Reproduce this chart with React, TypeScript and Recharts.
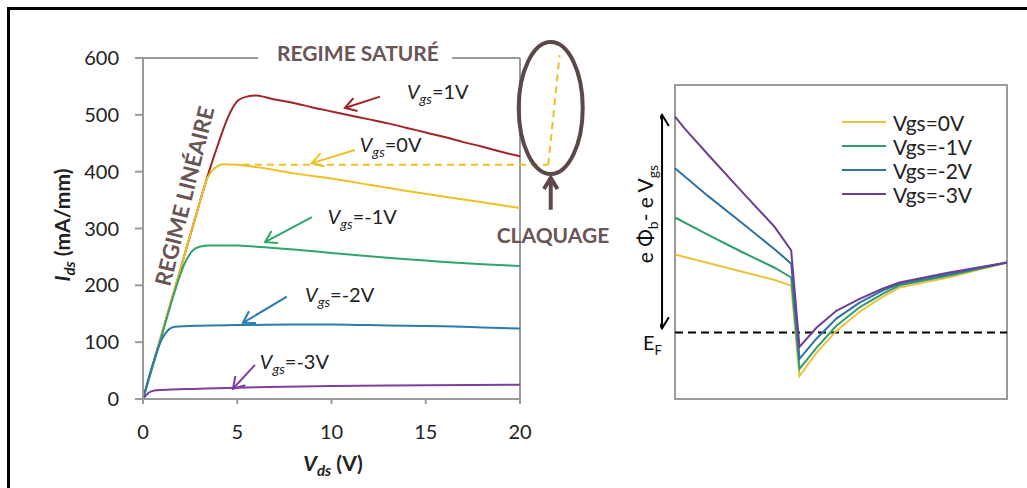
import { LineChart, Line, XAxis, YAxis, ReferenceLine, ReferenceDot, ReferenceArea, Legend } from 'recharts'

// ---- left chart : Ids(Vds) ----
const VDS_P1 = [0, 1, 2, 3, 3.5, 4, 4.5, 4.75, 5, 5.5, 6, 6.5, 7, 8, 9, 10, 11, 12, 13, 14, 15, 16, 17, 18, 19, 20]
const IDS_P1 = [0, 115, 230, 345, 400, 450, 495, 512, 524, 532, 534, 531, 527, 521, 513, 506, 499, 492, 485, 477, 469, 461, 452, 444, 435, 427]

const VDS_0 = [0, 1, 2, 3, 3.4, 3.8, 4.3, 5, 6, 7, 8, 10, 12, 14, 16, 18, 20]
const IDS_0 = [0, 115, 230, 345, 388, 406, 413, 412, 408, 403, 397, 388, 377, 366, 356, 346, 336]

const VDS_M1 = [0, 1, 1.6, 2.2, 2.6, 3, 3.5, 5, 6, 8, 10, 12, 14, 16, 18, 20]
const IDS_M1 = [0, 112, 180, 238, 260, 268, 270, 270, 268, 263, 257, 251, 246, 241, 237, 234]

const VDS_M2 = [0, 0.6, 1, 1.3, 1.7, 3, 5, 8, 10, 12, 14, 16, 18, 20]
const IDS_M2 = [0, 70, 105, 120, 127, 129, 130, 131, 131, 130, 129, 128, 126, 124]

const VDS_M3 = [0, 0.3, 0.6, 1, 3, 5, 10, 15, 20]
const IDS_M3 = [0, 11, 15, 16, 18, 20, 23, 24, 25]

const X_TICKS = [0, 5, 10, 15, 20]
const Y_TICKS = [0, 100, 200, 300, 400, 500, 600]

const LEFT_LABELS = ['=1V', '=0V', '=-1V', '=-2V', '=-3V']
const LABEL_POS = [[14.0, 527], [11.5, 435], [9.8, 308], [8.6, 171], [6.2, 52]]
const ARROWS = [
  [[12.57, 532], [10.71, 512]],
  [[11.24, 438], [8.96, 415]],
  [[8.96, 320], [6.47, 276]],
  [[7.63, 180], [5.3, 134]],
  [[5.94, 60], [4.77, 18]],
]

// saturation level of Vgs=0V and breakdown excursion
const BREAKDOWN = [[5.3, 412], [21.5, 412], [22.1, 605]]

// ---- right chart : band diagram ----
const BAND_X_0 = [0, 10, 20, 30, 35, 37.5, 42.6, 48.6, 55.6, 62.5, 67.6, 82.6, 100]
const BAND_Y_0 = [46, 43.3, 40.6, 37.9, 36.1, 7.3, 14.7, 21.7, 27.8, 32.5, 35.5, 38.8, 43.5]
const BAND_X_1 = [0, 10, 20, 30, 35, 37.5, 42.6, 48.6, 55.6, 62.5, 67.6, 82.6, 100]
const BAND_Y_1 = [57.8, 52.3, 46.9, 41.8, 38.7, 9.6, 16.3, 23.3, 29.2, 33.5, 36.2, 39.3, 43.5]
const BAND_X_2 = [0, 10, 20, 30, 35, 37.5, 42.6, 48.6, 55.6, 62.5, 67.6, 82.6, 100]
const BAND_Y_2 = [73.5, 64.6, 56.2, 47.7, 43.1, 12.8, 19.2, 25.6, 30.7, 34.5, 36.7, 39.8, 43.5]
const BAND_X_3 = [0, 3, 10, 20, 30, 35, 37.5, 42.6, 48.6, 55.6, 62.5, 67.6, 82.6, 100]
const BAND_Y_3 = [89.9, 86, 77.8, 66.2, 54.8, 47.3, 16.6, 22.7, 28.1, 31.9, 35.1, 37.1, 40.3, 43.5]
const FERMI_LEVEL = 21.2
const LEGEND_NAMES = ['Vgs=0V', 'Vgs=-1V', 'Vgs=-2V', 'Vgs=-3V']

const RED = '#a3232a'
const YELLOW = '#efbf25'
const GREEN = '#2fa56c'
const BLUE = '#2a7caf'
const PURPLE = '#7d3f9f'
const LEFT_COLORS = [RED, YELLOW, GREEN, BLUE, PURPLE]
const RIGHT_COLORS = ['#e8c43a', '#2f9d6e', '#2e72a6', '#6c3f92']
const BROWN = '#6a5555'
const FRAME = '#9a9a9a'
const FONT = 'Lato, "Open Sans", sans-serif'

const pts = (xs: number[], ys: number[]) => xs.map((x, i) => ({ x, y: ys[i] }))

const leftSeries = [
  pts(VDS_P1, IDS_P1),
  pts(VDS_0, IDS_0),
  pts(VDS_M1, IDS_M1),
  pts(VDS_M2, IDS_M2),
  pts(VDS_M3, IDS_M3),
]
const rightSeries = [
  pts(BAND_X_0, BAND_Y_0),
  pts(BAND_X_1, BAND_Y_1),
  pts(BAND_X_2, BAND_Y_2),
  pts(BAND_X_3, BAND_Y_3),
]

function arrowShape(color: string, width: number, head: number, both = false) {
  return (p: any) => {
    const { x1, y1, x2, y2 } = p
    const a = Math.atan2(y2 - y1, x2 - x1)
    const tip = (x: number, y: number, ang: number) => {
      const s = 0.55
      return (
        <path
          d={`M${x - head * Math.cos(ang - s)},${y - head * Math.sin(ang - s)} L${x},${y} L${x - head * Math.cos(ang + s)},${y - head * Math.sin(ang + s)}`}
          fill="none"
          stroke={color}
          strokeWidth={width}
        />
      )
    }
    return (
      <g>
        <line x1={x1} y1={y1} x2={x2} y2={y2} stroke={color} strokeWidth={width} />
        {tip(x2, y2, a)}
        {both && tip(x1, y1, a + Math.PI)}
      </g>
    )
  }
}

function vgsLabel(text: string) {
  return (p: any) => (
    <text x={p.cx} y={p.cy} fontFamily={FONT} fontSize={20} fill="#222">
      <tspan fontStyle="italic">V</tspan>
      <tspan fontStyle="italic" fontSize={14} dy={5}>gs</tspan>
      <tspan dy={-5}>{text}</tspan>
    </text>
  )
}

function RightLegend({ payload }: any) {
  const items = [...(payload || [])].sort(
    (a: any, b: any) => LEGEND_NAMES.indexOf(a.value) - LEGEND_NAMES.indexOf(b.value)
  )
  return (
    <div style={{ fontFamily: FONT, fontSize: 21, color: '#222' }}>
      {items.map((e: any) => (
        <div key={e.value} style={{ display: 'flex', alignItems: 'center', height: 24 }}>
          <span style={{ width: 44, height: 2, background: e.color, marginRight: 7 }} />
          <span>{e.value}</span>
        </div>
      ))}
    </div>
  )
}

export default function App() {
  const tickStyle = { fill: '#222', fontSize: 20, fontFamily: FONT }
  return (
    <div style={{ position: 'absolute', left: 0, top: 0, width: 1027, height: 488, background: '#fff', overflow: 'hidden' }}>
      <div style={{ position: 'absolute', left: 7, top: 7, width: 1040, height: 500, borderTop: '3px solid #000', borderLeft: '3px solid #000' }} />

      <div style={{ position: 'absolute', left: 0, top: 0 }}>
        <LineChart width={620} height={488} margin={{ top: 58, right: 100, bottom: 49, left: 83 }}>
          <XAxis
            type="number"
            dataKey="x"
            domain={[0, 20]}
            ticks={X_TICKS}
            tickSize={5}
            tickMargin={21}
            axisLine={{ stroke: FRAME, strokeWidth: 2 }}
            tickLine={{ stroke: FRAME, strokeWidth: 2 }}
            tick={tickStyle}
            height={40}
          />
          <YAxis
            type="number"
            dataKey="y"
            domain={[0, 600]}
            ticks={Y_TICKS}
            tickSize={8}
            tickMargin={16}
            axisLine={{ stroke: FRAME, strokeWidth: 2 }}
            tickLine={{ stroke: FRAME, strokeWidth: 2 }}
            tick={tickStyle}
            width={60}
          />
          <ReferenceLine segment={[{ x: 0, y: 600 }, { x: 6.1, y: 600 }]} stroke={FRAME} strokeWidth={2} ifOverflow="visible" />
          <ReferenceLine segment={[{ x: 16.4, y: 600 }, { x: 20, y: 600 }]} stroke={FRAME} strokeWidth={2} ifOverflow="visible" />
          <ReferenceLine segment={[{ x: 20, y: 0 }, { x: 20, y: 600 }]} stroke={FRAME} strokeWidth={2} ifOverflow="visible" />

          <ReferenceLine
            segment={[{ x: BREAKDOWN[0][0], y: BREAKDOWN[0][1] }, { x: BREAKDOWN[1][0], y: BREAKDOWN[1][1] }]}
            stroke={YELLOW}
            strokeWidth={2}
            strokeDasharray="7 5"
            ifOverflow="visible"
          />
          <ReferenceLine
            segment={[{ x: BREAKDOWN[1][0], y: BREAKDOWN[1][1] }, { x: BREAKDOWN[2][0], y: BREAKDOWN[2][1] }]}
            stroke={YELLOW}
            strokeWidth={2}
            strokeDasharray="7 5"
            ifOverflow="visible"
          />

          {leftSeries.map((d, i) => (
            <Line
              key={i}
              data={d}
              dataKey="y"
              type="monotone"
              stroke={LEFT_COLORS[i]}
              strokeWidth={2}
              dot={false}
              isAnimationActive={false}
            />
          ))}

          {ARROWS.map((a, i) => (
            <ReferenceLine
              key={'a' + i}
              segment={[{ x: a[0][0], y: a[0][1] }, { x: a[1][0], y: a[1][1] }]}
              ifOverflow="visible"
              shape={arrowShape(LEFT_COLORS[i], 2, 13)}
            />
          ))}
          {LABEL_POS.map((p, i) => (
            <ReferenceDot key={'l' + i} x={p[0]} y={p[1]} ifOverflow="visible" shape={vgsLabel(LEFT_LABELS[i])} />
          ))}

          {/* breakdown zone */}
          <ReferenceDot
            x={21.63}
            y={512}
            ifOverflow="visible"
            shape={(p: any) => <ellipse cx={p.cx} cy={p.cy} rx={32} ry={66} fill="none" stroke="#5d4848" strokeWidth={4} />}
          />
          <ReferenceLine
            segment={[{ x: 21.63, y: 333 }, { x: 21.63, y: 389 }]}
            ifOverflow="visible"
            shape={arrowShape('#5d4848', 4, 13)}
          />
        </LineChart>
      </div>

      <div style={{ position: 'absolute', left: 660, top: 70 }}>
        <LineChart width={360} height={340} margin={{ top: 15, right: 13, bottom: 11, left: 15 }}>
          <XAxis type="number" dataKey="x" domain={[0, 100]} hide />
          <YAxis type="number" dataKey="y" domain={[0, 100]} hide />
          <ReferenceArea x1={0} x2={100} y1={0} y2={100} fill="none" stroke={FRAME} strokeWidth={2} fillOpacity={0} />
          <ReferenceLine y={FERMI_LEVEL} stroke="#000" strokeWidth={2} strokeDasharray="8 5" />
          {rightSeries.map((d, i) => (
            <Line
              key={i}
              data={d}
              dataKey="y"
              name={LEGEND_NAMES[i]}
              type="linear"
              stroke={RIGHT_COLORS[i]}
              strokeWidth={2}
              dot={false}
              legendType="line"
              isAnimationActive={false}
            />
          ))}
          <ReferenceLine
            segment={[{ x: -3.9, y: 22.5 }, { x: -3.9, y: 90.5 }]}
            ifOverflow="visible"
            shape={arrowShape('#000', 2, 13, true)}
          />
          <Legend
            layout="vertical"
            align="center"
            verticalAlign="middle"
            content={<RightLegend />}
            wrapperStyle={{ left: 182, top: 40, width: 170 }}
          />
        </LineChart>
      </div>

      <svg width={1027} height={488} style={{ position: 'absolute', left: 0, top: 0, pointerEvents: 'none' }} fontFamily={FONT}>
        <text x={358} y={61} textAnchor="middle" fontSize={21} fontWeight="bold" fill={BROWN}>REGIME SATURÉ</text>
        <text
          transform="translate(184,196) rotate(-76)"
          textAnchor="middle"
          dominantBaseline="central"
          fontSize={22}
          fontWeight="bold"
          fill={BROWN}
        >
          REGIME LINÉAIRE
        </text>
        <text x={553} y={243} textAnchor="middle" fontSize={21} fontWeight="bold" fill={BROWN}>CLAQUAGE</text>

        <text transform="translate(70,225) rotate(-90)" textAnchor="middle" fontSize={21} fontWeight="bold" fill="#222">
          <tspan fontStyle="italic">I</tspan>
          <tspan fontStyle="italic" fontSize={15} dy={5}>ds</tspan>
          <tspan dy={-5}> (mA/mm)</tspan>
        </text>
        <text x={333} y={471} textAnchor="middle" fontSize={21} fontWeight="bold" fill="#222">
          <tspan fontStyle="italic">V</tspan>
          <tspan fontStyle="italic" fontSize={15} dy={5}>ds</tspan>
          <tspan dy={-5}> (V)</tspan>
        </text>

        <text transform="translate(653,214) rotate(-90)" textAnchor="middle" fontSize={21} fill="#111">
          <tspan>e Φ</tspan>
          <tspan fontSize={14} dy={5}>b</tspan>
          <tspan dy={-5}>- e V</tspan>
          <tspan fontSize={14} dy={5}>gs</tspan>
        </text>
        <text x={643} y={350} fontSize={20} fill="#111">
          <tspan>E</tspan>
          <tspan fontSize={13} dy={5}>F</tspan>
        </text>
      </svg>
    </div>
  )
}
